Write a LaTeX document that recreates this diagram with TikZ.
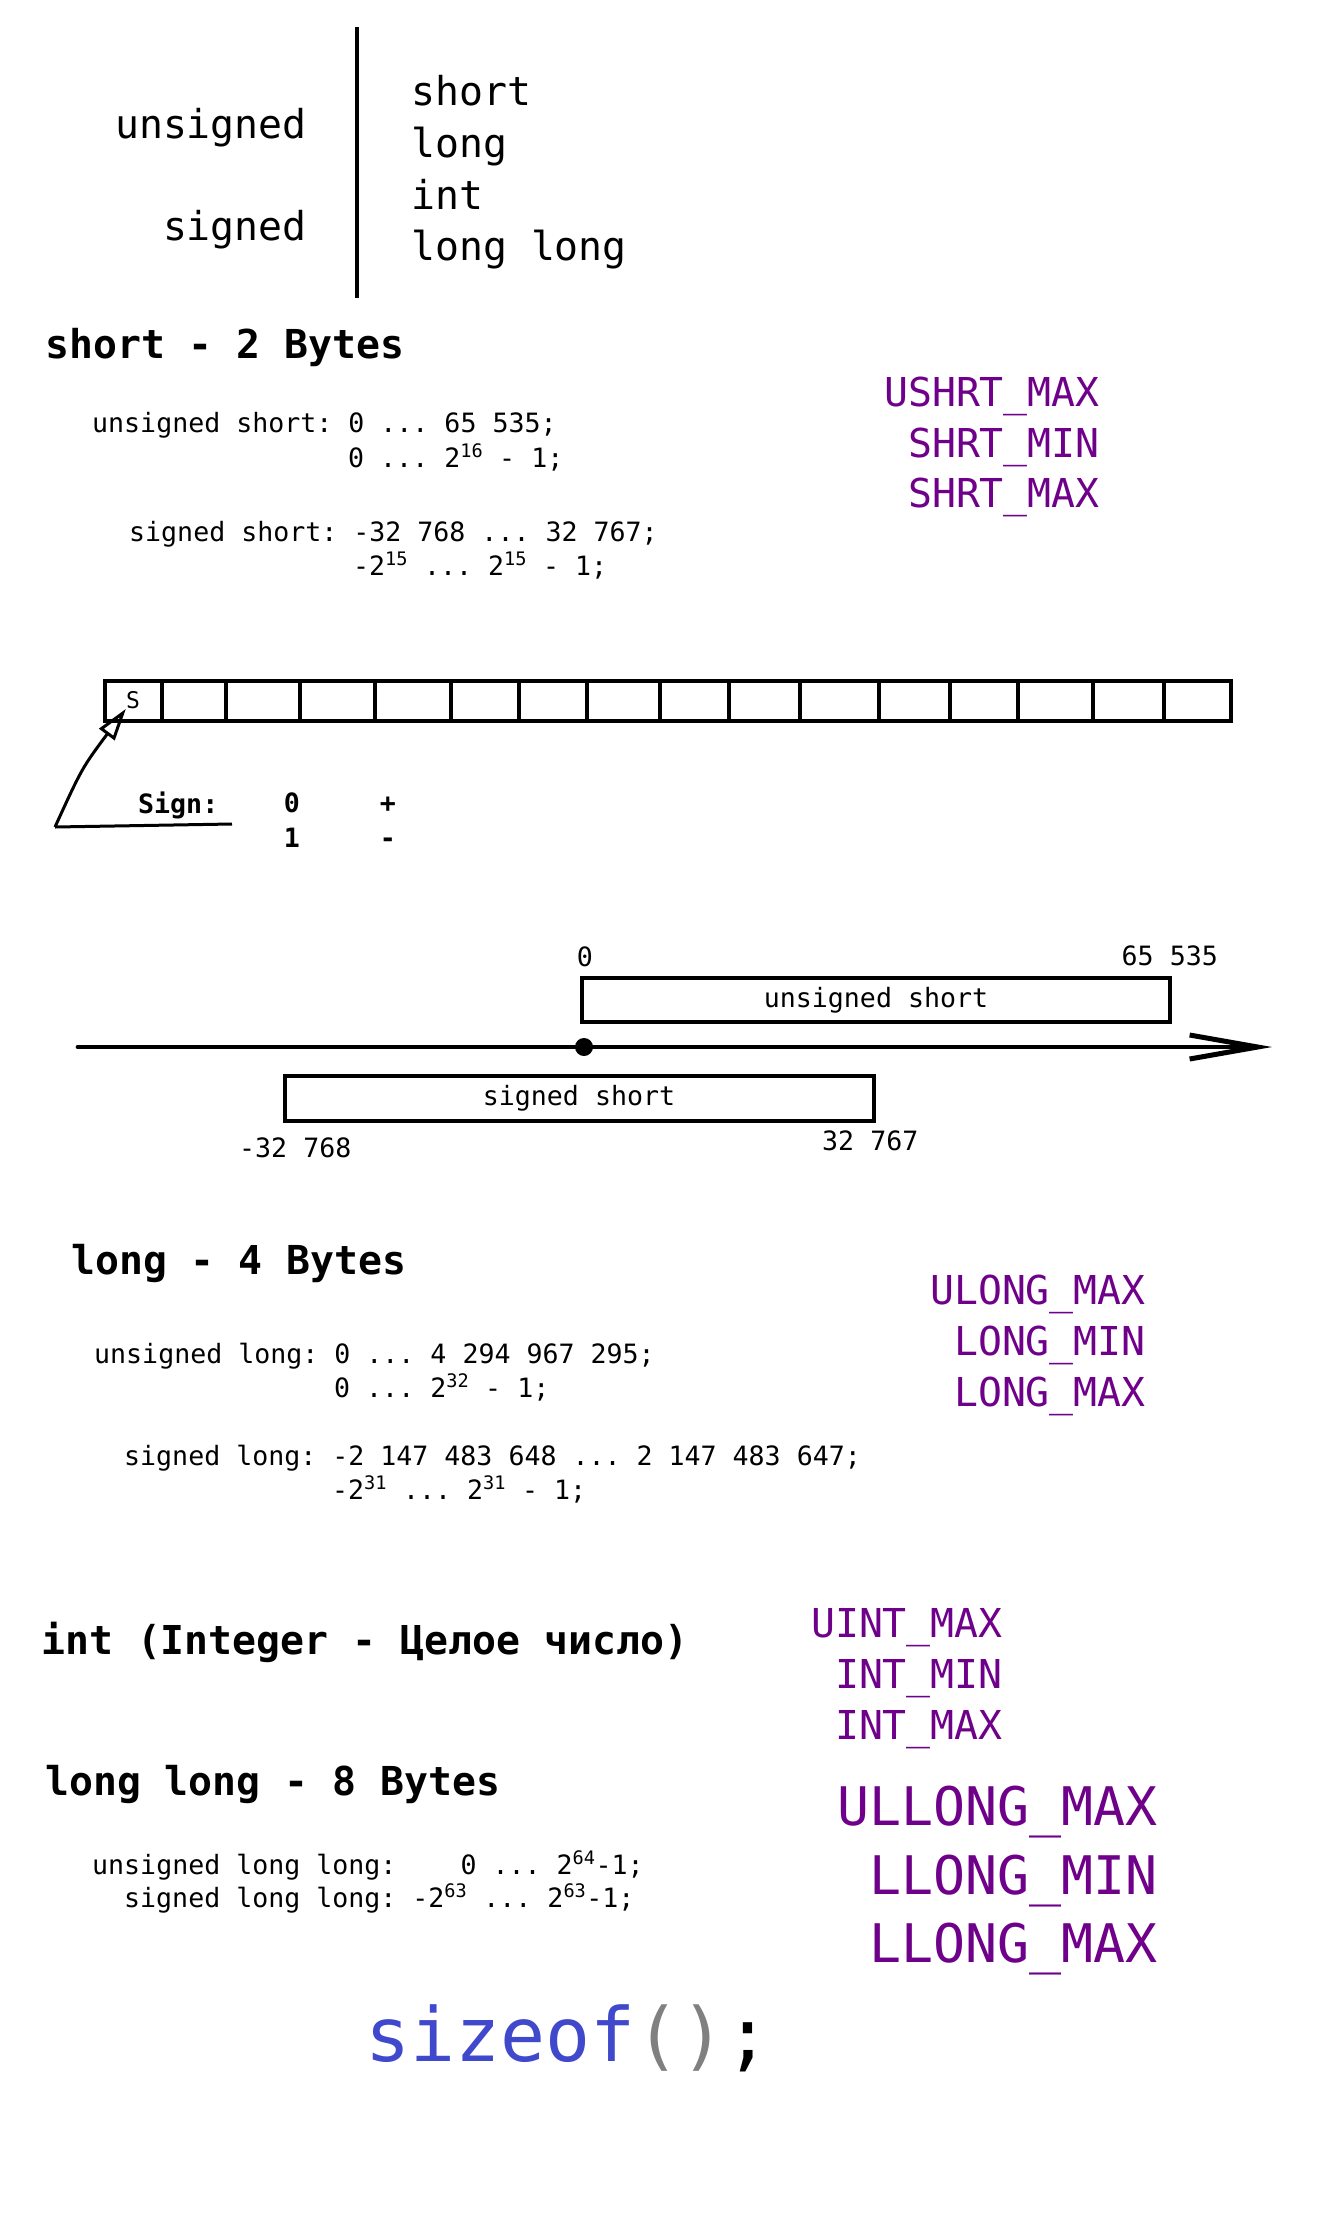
\documentclass[tikz,border=0pt]{standalone}
\usepackage{fontspec}
\usetikzlibrary{arrows.meta}

\newfontfamily\monofnt{DejaVu Sans Mono}
\newcommand{\txtbody}{\monofnt\fontsize{26.6}{32}\selectfont}
\newcommand{\txtbig}{\monofnt\fontsize{39.8}{48}\selectfont}
\newcommand{\txthuge}{\monofnt\fontsize{53.2}{64}\selectfont}
\newcommand{\txtkw}{\monofnt\fontsize{74.8}{90}\selectfont}
\newcommand{\txtbit}{\monofnt\fontsize{23}{28}\selectfont}

\definecolor{macrocol}{RGB}{111,0,138}
\definecolor{kwcol}{RGB}{64,72,204}
\definecolor{parcol}{RGB}{128,128,128}

\begin{document}
\frenchspacing
\begin{tikzpicture}[x=1pt, y=-1pt,
    typetxt/.style={inner sep=0pt, font=\txtbig},
    headtxt/.style={inner sep=0pt, font=\txtbig\bfseries, anchor=base west},
    rangetxt/.style={inner sep=0pt, font=\txtbody, anchor=base west},
    limtxt/.style={inner sep=0pt, font=\txtbig, text=macrocol, anchor=base east},
    biglimtxt/.style={inner sep=0pt, font=\txthuge, text=macrocol, anchor=base east},
    signtxt/.style={inner sep=0pt, font=\txtbody\bfseries, anchor=base},
    barbox/.style={draw, line width=4pt, inner sep=0pt, font=\txtbody},
    ticktxt/.style={inner sep=0pt, font=\txtbody, anchor=base}
]
    \useasboundingbox (0,0) rectangle (1332,2216);

    % types
    \node[typetxt, anchor=base east] (uns) at (307,138) {unsigned};
    \node[typetxt, anchor=base east] (sig) at (307,240) {signed};
    \draw[line width=4.5pt] (357,27) -- (357,298);
    \node[typetxt, anchor=base west] (tshort) at (411,105) {short};
    \node[typetxt, anchor=base west] (tlong) at (411,157) {long};
    \node[typetxt, anchor=base west] (tint) at (411,209) {int};
    \node[typetxt, anchor=base west] (tllong) at (411,260) {long long};

    % short
    \node[headtxt] (hshort) at (45,358) {short - 2 Bytes};
    \node[rangetxt] (us1) at (92,432) {unsigned short: 0 ... 65 535;};
    \node[rangetxt] (us2) at (348,467) {0 ... 2\textsuperscript{16} - 1;};
    \node[rangetxt] (ss1) at (129,541) {signed short: -32 768 ... 32 767;};
    \node[rangetxt] (ss2) at (353,575) {-2\textsuperscript{15} ... 2\textsuperscript{15} - 1;};
    \node[limtxt] (ushrtmax) at (1100,406) {USHRT\_MAX};
    \node[limtxt] (shrtmin) at (1100,457) {SHRT\_MIN};
    \node[limtxt] (shrtmax) at (1100,507) {SHRT\_MAX};

    % 16 bits
    \draw[line width=4pt] (105,681) rectangle (1231,721);
    \draw[line width=3.5pt] (162,681) -- (162,721);
    \draw[line width=3.5pt] (226,681) -- (226,721);
    \draw[line width=3.5pt] (300,681) -- (300,721);
    \draw[line width=3.5pt] (375,681) -- (375,721);
    \draw[line width=3.5pt] (451,681) -- (451,721);
    \draw[line width=3.5pt] (519,681) -- (519,721);
    \draw[line width=3.5pt] (587,681) -- (587,721);
    \draw[line width=3.5pt] (660,681) -- (660,721);
    \draw[line width=3.5pt] (729,681) -- (729,721);
    \draw[line width=3.5pt] (800,681) -- (800,721);
    \draw[line width=3.5pt] (879,681) -- (879,721);
    \draw[line width=3.5pt] (950,681) -- (950,721);
    \draw[line width=3.5pt] (1018,681) -- (1018,721);
    \draw[line width=3.5pt] (1093,681) -- (1093,721);
    \draw[line width=3.5pt] (1164,681) -- (1164,721);
    \node[inner sep=0pt, font=\txtbit] (sbit) at (133,700) {S};

    \node[signtxt, anchor=base west] (sign) at (138,813) {Sign:};
    \node[signtxt] (zero) at (292,812) {0};
    \node[signtxt] (plus) at (388,812) {+};
    \node[signtxt] (one) at (292,847) {1};
    \node[signtxt] (minus) at (388,847) {-};
    \coordinate (sgnA) at (55,827);
    \coordinate (sgnB) at (232,824);
    \draw[line width=3pt] (sgnA) -- (sgnB);
    \draw[line width=3pt, -{Triangle[open, length=32pt, width=19pt, line width=3pt]}]
        (sgnA) .. controls (82,768) .. (sbit.south west);

    % number line
    \coordinate (axL) at (78,1047);
    \coordinate (axR) at (1272,1047);
    \draw[line width=4.7pt, line cap=round, -{Straight Barb[length=68pt, width=24pt, line width=5pt]}] (axL) -- (axR);
    \fill (584,1047) coordinate (orig) circle (9pt);
    \node[barbox, minimum width=588pt, minimum height=44pt] (ubox) at (876,1000) {unsigned short};
    \node[barbox, minimum width=589pt, minimum height=45pt] (sbox) at (579,1098) {signed short};
    \node[ticktxt] (u0) at (585,966) {0};
    \node[ticktxt, anchor=base east] (umax) at (1218,965) {65 535};
    \node[ticktxt, anchor=base west] (smin) at (239,1157) {-32 768};
    \node[ticktxt, anchor=base west] (smax) at (822,1150) {32 767};

    % long
    \node[headtxt] (hlong) at (71,1274) {long - 4 Bytes};
    \node[rangetxt] (ul1) at (94,1363) {unsigned long: 0 ... 4 294 967 295;};
    \node[rangetxt] (ul2) at (334,1397) {0 ... 2\textsuperscript{32} - 1;};
    \node[rangetxt] (sl1) at (124,1465) {signed long: -2 147 483 648 ... 2 147 483 647;};
    \node[rangetxt] (sl2) at (332,1499) {-2\textsuperscript{31} ... 2\textsuperscript{31} - 1;};
    \node[limtxt] (ulongmax) at (1146,1304) {ULONG\_MAX};
    \node[limtxt] (longmin) at (1146,1355) {LONG\_MIN};
    \node[limtxt] (longmax) at (1146,1406) {LONG\_MAX};

    % int
    \node[headtxt] (hint) at (41,1654) {int (Integer - Целое число)};
    \node[limtxt] (uintmax) at (1003,1637) {UINT\_MAX};
    \node[limtxt] (intmin) at (1003,1688) {INT\_MIN};
    \node[limtxt] (intmax) at (1003,1739) {INT\_MAX};

    % long long
    \node[headtxt] (hllong) at (45,1795) {long long - 8 Bytes};
    \node[rangetxt] (ull1) at (92,1874) {unsigned long long:\ \ \ \ 0 ... 2\textsuperscript{64}-1;};
    \node[rangetxt] (sll1) at (124,1907) {signed long long: -2\textsuperscript{63} ... 2\textsuperscript{63}-1;};
    \node[biglimtxt] (ullongmax) at (1158,1825) {ULLONG\_MAX};
    \node[biglimtxt] (llongmin) at (1158,1894) {LLONG\_MIN};
    \node[biglimtxt] (llongmax) at (1158,1962) {LLONG\_MAX};

    % sizeof
    \node[inner sep=0pt, font=\txtkw, anchor=base west] (szof) at (365,2061)
        {\textcolor{kwcol}{sizeof}\textcolor{parcol}{()};};
\end{tikzpicture}
\end{document}
